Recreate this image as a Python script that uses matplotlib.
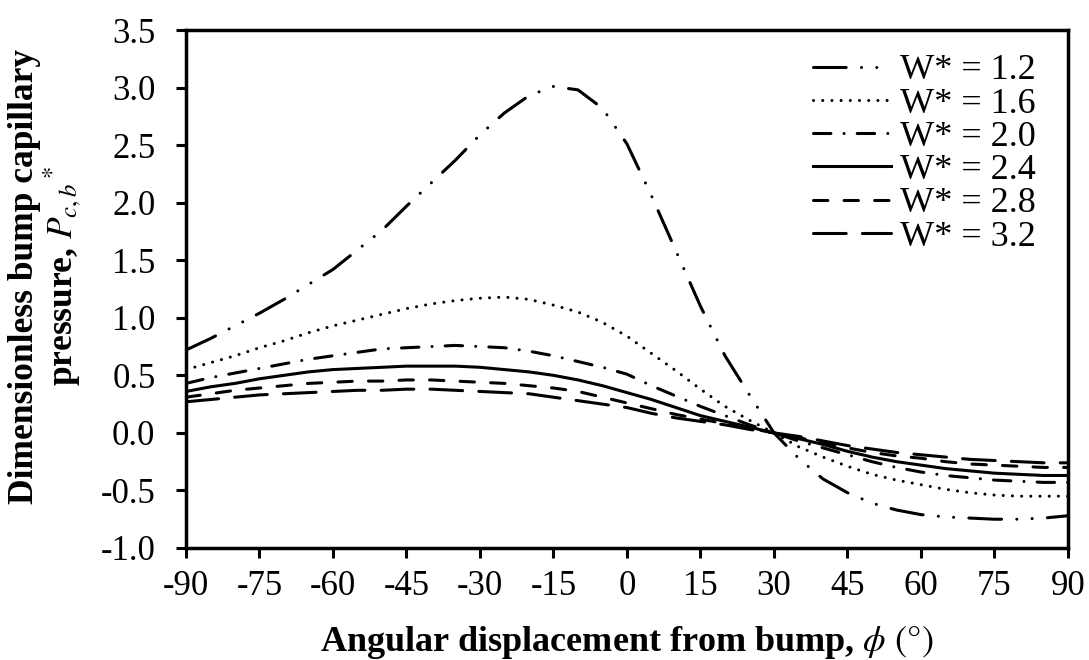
import matplotlib.pyplot as plt
import matplotlib as mpl

mpl.rcParams['font.family'] = ['Liberation Serif', 'DejaVu Serif']
mpl.rcParams['mathtext.fontset'] = 'stix'
mpl.rcParams['axes.unicode_minus'] = False

angle = list(range(-90, 91, 5))

w12 = [0.72, 0.82, 0.93, 1.04, 1.16, 1.29, 1.42, 1.59, 1.76, 1.97, 2.17, 2.37, 2.59,
       2.78, 2.93, 3.01, 2.98, 2.82, 2.51, 2.06, 1.58, 1.10, 0.67, 0.33, 0.00, -0.22,
       -0.40, -0.52, -0.61, -0.67, -0.71, -0.73, -0.74, -0.75, -0.75, -0.74, -0.72]
w16 = [0.55, 0.61, 0.67, 0.74, 0.80, 0.87, 0.93, 0.98, 1.03, 1.08, 1.12, 1.15, 1.17,
       1.18, 1.16, 1.11, 1.05, 0.96, 0.84, 0.69, 0.54, 0.38, 0.23, 0.11, 0.00, -0.12,
       -0.21, -0.29, -0.36, -0.41, -0.45, -0.49, -0.52, -0.54, -0.55, -0.55, -0.55]
w20 = [0.43, 0.48, 0.52, 0.56, 0.60, 0.64, 0.67, 0.70, 0.73, 0.74, 0.75, 0.76, 0.75,
       0.74, 0.71, 0.67, 0.62, 0.57, 0.51, 0.41, 0.32, 0.23, 0.15, 0.07, 0.00, -0.07,
       -0.13, -0.19, -0.25, -0.30, -0.34, -0.37, -0.39, -0.41, -0.42, -0.43, -0.43]
w24 = [0.36, 0.40, 0.43, 0.47, 0.50, 0.53, 0.55, 0.56, 0.57, 0.58, 0.58, 0.58, 0.57,
       0.55, 0.53, 0.50, 0.46, 0.41, 0.35, 0.29, 0.22, 0.15, 0.10, 0.05, 0.00, -0.05,
       -0.10, -0.16, -0.21, -0.25, -0.28, -0.31, -0.33, -0.35, -0.36, -0.37, -0.37]
w28 = [0.31, 0.34, 0.37, 0.39, 0.41, 0.43, 0.44, 0.45, 0.45, 0.46, 0.46, 0.45, 0.44,
       0.43, 0.41, 0.39, 0.36, 0.31, 0.26, 0.21, 0.16, 0.12, 0.08, 0.04, 0.00, -0.04,
       -0.09, -0.13, -0.17, -0.20, -0.22, -0.25, -0.27, -0.28, -0.29, -0.30, -0.30]
w32 = [0.27, 0.29, 0.31, 0.33, 0.34, 0.35, 0.36, 0.37, 0.37, 0.38, 0.38, 0.37, 0.36,
       0.35, 0.34, 0.31, 0.28, 0.25, 0.22, 0.17, 0.13, 0.10, 0.07, 0.03, 0.00, -0.03,
       -0.07, -0.11, -0.14, -0.17, -0.19, -0.21, -0.23, -0.24, -0.25, -0.26, -0.26]

labels = ['W* = 1.2', 'W* = 1.6', 'W* = 2.0', 'W* = 2.4', 'W* = 2.8', 'W* = 3.2']
series = [w12, w16, w20, w24, w28, w32]
# dash patterns in linewidth units, round caps
dashes = [(10.7, 5, 0.01, 5, 0.01, 5), (0.01, 3), (5.7, 4.3, 0.01, 4.3), None,
          (4.7, 5.3), (10.7, 5.3)]

fig = plt.figure(figsize=(10.89, 6.6), dpi=100)
ax = fig.add_axes([0.1708, 0.1697, 0.8099, 0.7848])

for vals, lab, d in zip(series, labels, dashes):
    line, = ax.plot(angle, vals, color='black', lw=2.2, label=lab)
    if d is not None:
        line.set_dashes(d)
        line.set_dash_capstyle('round')

ax.set_xlim(-90, 90)
ax.set_ylim(-1.0, 3.5)
ax.set_xticks(range(-90, 91, 15))
ax.set_yticks([-1.0 + 0.5 * i for i in range(10)])
ax.set_yticklabels(['%.1f' % (-1.0 + 0.5 * i) for i in range(10)])
ax.tick_params(direction='out', length=7, width=2.2, labelsize=25)
ax.tick_params(axis='y', pad=15)
ax.tick_params(axis='x', pad=9)
for sp in ax.spines.values():
    sp.set_linewidth(2.5)

ax.set_xlabel(r'Angular displacement from bump, $\phi$ $\mathrm{(°)}$', fontsize=26,
              fontweight='bold', labelpad=15)
ax.set_ylabel('Dimensionless bump capillary\n' + r'pressure, $P_{c,b}$$^*$',
              fontsize=25.5, fontweight='bold', linespacing=1.0)
ax.yaxis.set_label_coords(-0.115, 0.525)

leg = ax.legend(loc='upper left', bbox_to_anchor=(813 / 1089, 1 - 54 / 660),
                bbox_transform=fig.transFigure, fontsize=26, frameon=False,
                handlelength=2.15, handletextpad=0.27, labelspacing=0.0,
                borderpad=0, borderaxespad=0)

fig.savefig('out.png', dpi=100)
